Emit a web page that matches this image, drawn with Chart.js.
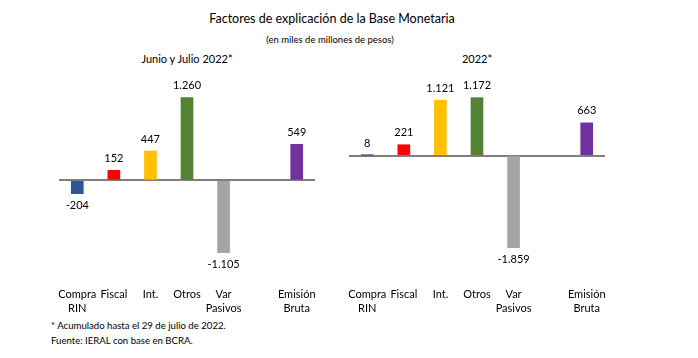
<!DOCTYPE html>
<html>
<head>
<meta charset="utf-8">
<script src="https://cdn.jsdelivr.net/npm/chart.js@4"></script>
<style>
  body { margin: 0; background: #fff; font-family: Lato, "Open Sans", sans-serif; color: #000; }
  #wrap { position: relative; width: 698px; height: 358px; overflow: hidden; }
  .txt { position: absolute; white-space: nowrap; }
  canvas { position: absolute; }
</style>
</head>
<body>
<div id="wrap">
  <div class="txt" style="left:0;width:664px;text-align:center;top:11px;font-size:12.5px;">Factores de explicación de la Base Monetaria</div>
  <div class="txt" style="left:0;width:660px;text-align:center;top:34px;font-size:9.5px;">(en miles de millones de pesos)</div>
  <div class="txt" style="left:87px;width:200px;text-align:center;top:52px;font-size:11px;">Junio y Julio 2022*</div>
  <div class="txt" style="left:377px;width:200px;text-align:center;top:52px;font-size:11px;">2022*</div>
  <div class="txt" style="left:51px;top:320px;font-size:9.6px;">* Acumulado hasta el 29 de julio de 2022.</div>
  <div class="txt" style="left:51px;top:335px;font-size:9.6px;">Fuente: IERAL con base en BCRA.</div>
  <canvas id="c1" style="left:0;top:60px;"></canvas>
  <canvas id="c2" style="left:345px;top:60px;"></canvas>
</div>
<script>
// categorias (el hueco entre Var Pasivos y Emisión es un slot vacío)
var categorias = [['Compra', 'RIN'], 'Fiscal', 'Int.', 'Otros', ['Var', 'Pasivos'], '', ['Emisión', 'Bruta']];
var colores = ['#2F5597', '#FF0000', '#FFC000', '#548235', '#A5A5A5', '#FFFFFF', '#7030A0'];

// Junio y Julio 2022*
var valoresJunJul = [-204, 152, 447, 1260, -1105, null, 549];
// 2022*
var valores2022 = [8, 221, 1121, 1172, -1859, null, 663];

function fmt(v) {
  var s = Math.abs(v).toString().replace(/\B(?=(\d{3})+(?!\d))/g, '.');
  return (v < 0 ? '-' : '') + s;
}

/* etiquetas arriba / abajo de cada barra */
var etiquetas = {
  id: 'etiquetas',
  afterDatasetsDraw: function(chart) {
    var c = chart.ctx;
    var ds = chart.data.datasets[0];
    c.save();
    c.font = '11px Lato, "Open Sans", sans-serif';
    c.fillStyle = '#000';
    c.textAlign = 'center';
    c.textBaseline = 'middle';
    chart.getDatasetMeta(0).data.forEach(function(bar, i) {
      var v = ds.data[i];
      if (v === null) return;
      var y = v >= 0 ? bar.y - 12 : bar.y + 12;
      c.fillText(fmt(v), bar.x, y);
    });
    c.restore();
  }
};

function crearGrafico(id, ancho, alto, datos, min, max, padL, padR) {
  var cv = document.getElementById(id);
  cv.width = ancho; cv.height = alto;
  cv.style.width = ancho + 'px'; cv.style.height = alto + 'px';
  return new Chart(cv.getContext('2d'), {
    type: 'bar',
    data: {
      labels: categorias,
      datasets: [{
        data: datos,
        backgroundColor: colores,
        barThickness: 12,
        categoryPercentage: 1
      }]
    },
    options: {
      responsive: false,
      animation: false,
      layout: { padding: { left: padL, right: padR, top: 0, bottom: 0 } },
      plugins: { legend: { display: false }, tooltip: { enabled: false } },
      scales: {
        x: {
          grid: { display: false },
          border: { display: false },
          ticks: {
            autoSkip: false, maxRotation: 0, padding: -4, color: '#000',
            font: { family: 'Lato, "Open Sans", sans-serif', size: 11, lineHeight: 1.25 }
          },
          afterFit: function(s) { s.height = 36; }
        },
        y: {
          min: min, max: max,
          border: { display: false },
          ticks: { display: false },
          grid: {
            drawTicks: false,
            color: '#7F7F7F',
            lineWidth: 2
          },
          afterBuildTicks: function(s) { s.ticks = [{ value: 0 }]; }
        }
      }
    },
    plugins: [etiquetas]
  });
}

crearGrafico('c1', 345, 260, valoresJunJul, -1581, 1834, 59, 30);
crearGrafico('c2', 353, 260, valores2022, -2592, 1933, 4, 93);
</script>
</body>
</html>
